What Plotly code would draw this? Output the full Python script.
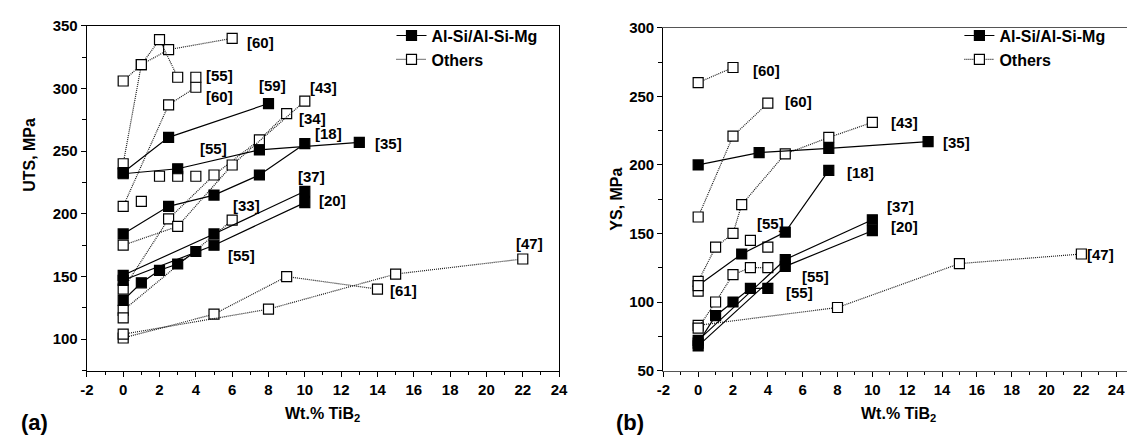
import plotly.graph_objects as go

# ---------------- Panel (a): UTS ----------------
# Al-Si / Al-Si-Mg (filled squares, solid lines)
a_al_59_x = [0, 2.5, 8];            a_al_59_y = [233, 261, 288]
a_al_35_x = [0, 3, 7.5, 13];        a_al_35_y = [232, 236, 251, 257]
a_al_18_x = [0, 2.5, 5, 7.5, 10];   a_al_18_y = [184, 206, 215, 231, 256]
a_al_37_x = [0, 5, 10];             a_al_37_y = [151, 184, 218]
a_al_20_x = [0, 5, 10];             a_al_20_y = [147, 175, 209]
a_al_55_x = [0, 1, 2, 3, 4];        a_al_55_y = [131, 145, 155, 160, 170]

# Others (open squares, dotted lines)
a_ot_60a_x = [0, 1, 2.5, 6];        a_ot_60a_y = [306, 319, 331, 340]
a_ot_60b_x = [0, 1, 2, 3];          a_ot_60b_y = [240, 319, 339, 309]
a_ot_60c_x = [0, 2.5, 4];           a_ot_60c_y = [206, 287, 301]
a_ot_34_x = [0, 2.5, 5, 7.5, 9];    a_ot_34_y = [140, 196, 231, 259, 280]
a_ot_43_x = [0, 3, 6, 10];          a_ot_43_y = [175, 190, 239, 290]
a_ot_33_x = [0, 6];                 a_ot_33_y = [123, 195]
a_ot_61_x = [0, 5, 9, 14];          a_ot_61_y = [101, 120, 150, 140]
a_ot_47_x = [0, 8, 15, 22];         a_ot_47_y = [104, 124, 152, 164]
a_ot_pts_x = [4, 1, 2, 3, 4, 0];    a_ot_pts_y = [309, 210, 230, 230, 230, 117]

a_lab_text = ["[60]", "[55]", "[60]", "[59]", "[43]", "[34]", "[55]", "[18]", "[35]",
              "[37]", "[20]", "[33]", "[55]", "[47]", "[61]"]
a_lab_x = [6.73, 4.46, 4.46, 7.36, 10.16, 9.58, 4.1, 10.47, 13.78, 9.5, 10.65, 5.91, 5.64, 21.5, 14.6]
a_lab_y = [337, 310, 294, 302, 301, 276, 252, 264, 256, 230, 211, 207, 167, 176, 139]

# ---------------- Panel (b): YS ----------------
b_al_35_x = [0, 3.5, 7.5, 13.2];    b_al_35_y = [200, 209, 212, 217]
b_al_18_x = [0, 2.5, 5, 7.5];       b_al_18_y = [112, 135, 151, 196]
b_al_37_x = [0, 5, 10];             b_al_37_y = [72, 131, 160]
b_al_20_x = [0, 5, 10];             b_al_20_y = [68, 126, 152]
b_al_55_x = [0, 1, 2, 3, 4];        b_al_55_y = [70, 90, 100, 110, 110]

b_ot_60a_x = [0, 2];                b_ot_60a_y = [260, 271]
b_ot_60b_x = [0, 2, 4];             b_ot_60b_y = [162, 221, 245]
b_ot_43_x = [0, 1, 2, 2.5, 5, 7.5, 10]; b_ot_43_y = [115, 140, 150, 171, 208, 220, 231]
b_ot_47_x = [0, 8, 15, 22];         b_ot_47_y = [83, 96, 128, 135]
b_ot_c_x = [0, 1, 2, 3, 4];         b_ot_c_y = [81, 100, 120, 125, 125]
b_ot_pts_x = [0, 3, 4];             b_ot_pts_y = [108, 145, 140]

b_lab_text = ["[60]", "[60]", "[43]", "[35]", "[18]", "[37]", "[20]", "[55]", "[55]", "[55]", "[47]"]
b_lab_x = [3.06, 4.88, 10.98, 13.96, 8.43, 10.73, 10.98, 3.24, 5.85, 4.94, 22.2]
b_lab_y = [269, 246, 231, 216, 194.5, 170, 155, 157, 118.5, 107, 135]

# tick labels
x_ticks = [-2, 0, 2, 4, 6, 8, 10, 12, 14, 16, 18, 20, 22, 24]
a_y_ticks = [100, 150, 200, 250, 300, 350]
b_y_ticks = [50, 100, 150, 200, 250, 300]

FONT = "Arial, Liberation Sans, sans-serif"
DOT = "1px,1px"
MS = 10

fig = go.Figure()


def add_series(x, y, filled, xa, ya, first_open=False):
    if filled:
        colors = ["black"] * len(x)
        if first_open:
            colors[0] = "white"
        fig.add_trace(go.Scatter(
            x=x, y=y, mode="lines+markers", xaxis=xa, yaxis=ya, showlegend=False,
            line=dict(color="black", width=1.2),
            marker=dict(symbol="square", size=MS, color=colors,
                        line=dict(color="black", width=1.2)),
            hoverinfo="skip"))
    else:
        fig.add_trace(go.Scatter(
            x=x, y=y, mode="lines+markers", xaxis=xa, yaxis=ya, showlegend=False,
            line=dict(color="#1a1a1a", width=1.2, dash=DOT),
            marker=dict(symbol="square", size=MS, color="white",
                        line=dict(color="black", width=1.2)),
            hoverinfo="skip"))


def add_points(x, y, xa, ya):
    fig.add_trace(go.Scatter(
        x=x, y=y, mode="markers", xaxis=xa, yaxis=ya, showlegend=False,
        marker=dict(symbol="square", size=MS, color="white",
                    line=dict(color="black", width=1.2)),
        hoverinfo="skip"))


# panel a: others first, then Al-Si on top
for sx, sy in [(a_ot_60a_x, a_ot_60a_y), (a_ot_60b_x, a_ot_60b_y), (a_ot_60c_x, a_ot_60c_y),
               (a_ot_34_x, a_ot_34_y), (a_ot_43_x, a_ot_43_y), (a_ot_33_x, a_ot_33_y),
               (a_ot_61_x, a_ot_61_y), (a_ot_47_x, a_ot_47_y)]:
    add_series(sx, sy, False, "x", "y")
add_points(a_ot_pts_x, a_ot_pts_y, "x", "y")
for sx, sy in [(a_al_59_x, a_al_59_y), (a_al_35_x, a_al_35_y), (a_al_18_x, a_al_18_y),
               (a_al_37_x, a_al_37_y), (a_al_20_x, a_al_20_y), (a_al_55_x, a_al_55_y)]:
    add_series(sx, sy, True, "x", "y")

# panel b
for sx, sy in [(b_ot_60a_x, b_ot_60a_y), (b_ot_60b_x, b_ot_60b_y), (b_ot_43_x, b_ot_43_y),
               (b_ot_47_x, b_ot_47_y), (b_ot_c_x, b_ot_c_y)]:
    add_series(sx, sy, False, "x2", "y2")
add_points(b_ot_pts_x, b_ot_pts_y, "x2", "y2")
for sx, sy in [(b_al_35_x, b_al_35_y), (b_al_37_x, b_al_37_y),
               (b_al_20_x, b_al_20_y), (b_al_55_x, b_al_55_y)]:
    add_series(sx, sy, True, "x2", "y2")
add_series(b_al_18_x, b_al_18_y, True, "x2", "y2", first_open=True)

# legend entries
for leg, xa, ya in [("legend", "x", "y"), ("legend2", "x2", "y2")]:
    fig.add_trace(go.Scatter(
        x=[None], y=[None], xaxis=xa, yaxis=ya, mode="lines+markers", name="<b>Al-Si/Al-Si-Mg</b>",
        legend=leg, line=dict(color="black", width=1.2),
        marker=dict(symbol="square", size=MS, color="black", line=dict(color="black", width=1.2))))
    fig.add_trace(go.Scatter(
        x=[None], y=[None], xaxis=xa, yaxis=ya, mode="lines+markers", name="<b>Others</b>",
        legend=leg, line=dict(color="#1a1a1a", width=1.2, dash=DOT),
        marker=dict(symbol="square", size=MS, color="white", line=dict(color="black", width=1.2))))

lab_font = dict(family=FONT, size=15, color="black")
annotations = []
for t, x, y in zip(a_lab_text, a_lab_x, a_lab_y):
    annotations.append(dict(text="<b>" + t + "</b>", x=x, y=y, xref="x", yref="y",
                            xanchor="left", yanchor="middle", showarrow=False, font=lab_font))
for t, x, y in zip(b_lab_text, b_lab_x, b_lab_y):
    annotations.append(dict(text="<b>" + t + "</b>", x=x, y=y, xref="x2", yref="y2",
                            xanchor="left", yanchor="middle", showarrow=False, font=lab_font))

W, H = 1136, 443
def px(v):
    return v / W
def py(v):
    return 1 - v / H

title_font = dict(family=FONT, size=16, color="black")
annotations += [
    dict(text="<b>UTS, MPa</b>", x=px(22), y=py(152), xref="paper", yref="paper", textangle=-90,
         showarrow=False, font=title_font, xanchor="center", yanchor="middle"),
    dict(text="<b>YS, MPa</b>", x=px(618), y=py(198), xref="paper", yref="paper", textangle=-90,
         showarrow=False, font=title_font, xanchor="center", yanchor="middle"),
    dict(text="<b>Wt.% TiB<sub>2</sub></b>", x=px(320), y=py(422), xref="paper", yref="paper",
         showarrow=False, font=title_font, xanchor="center", yanchor="middle"),
    dict(text="<b>Wt.% TiB<sub>2</sub></b>", x=px(904), y=py(422), xref="paper", yref="paper",
         showarrow=False, font=title_font, xanchor="center", yanchor="middle"),
    dict(text="<b>(a)</b>", x=px(28), y=py(430), xref="paper", yref="paper",
         showarrow=False, font=dict(family=FONT, size=22, color="black"),
         xanchor="center", yanchor="middle"),
    dict(text="<b>(b)</b>", x=px(632), y=py(430), xref="paper", yref="paper",
         showarrow=False, font=dict(family=FONT, size=22, color="black"),
         xanchor="center", yanchor="middle"),
]

tick_font = dict(family=FONT, size=15, color="black")
common_x = dict(tickvals=x_ticks, ticktext=["<b>%d</b>" % v for v in x_ticks],
                ticks="outside", ticklen=5, tickwidth=1.2, tickcolor="black",
                showgrid=False, zeroline=False, showline=True, linewidth=1.3,
                tickfont=tick_font, mirror=True,
                minor=dict(dtick=1, ticks="outside", ticklen=3, tickcolor="black", tickwidth=1))
common_y = dict(ticks="outside", ticklen=5, tickwidth=1.2, tickcolor="black",
                showgrid=False, zeroline=False, showline=True, linewidth=1.3,
                tickfont=tick_font,
                minor=dict(dtick=25, ticks="outside", ticklen=4, tickcolor="black", tickwidth=1))

ybot, ytop_a, ytop_b = py(376), py(17.5), py(19.5)

fig.update_layout(
    width=W, height=H, margin=dict(l=0, r=0, t=0, b=0),
    paper_bgcolor="white", plot_bgcolor="white",
    xaxis=dict(domain=[px(81), px(560)], range=[-2, 24], anchor="y", linecolor="black", **common_x),
    yaxis=dict(domain=[ybot, ytop_a], range=[75, 350], anchor="x", linecolor="black", mirror=True,
               tickvals=a_y_ticks, ticktext=["<b>%d</b>" % v for v in a_y_ticks], **common_y),
    xaxis2=dict(domain=[px(665.7), 1.0], range=[-2, 24.62], anchor="y2", linecolor="#555555", **common_x),
    yaxis2=dict(domain=[ybot, ytop_b], range=[50, 300], anchor="x2", linecolor="black", mirror=False,
                tickvals=b_y_ticks, ticktext=["<b>%d</b>" % v for v in b_y_ticks], **common_y),
    legend=dict(x=px(390), y=py(10), xanchor="left", yanchor="top", bgcolor="rgba(0,0,0,0)",
                font=dict(family=FONT, size=16, color="black"),
                itemwidth=30, tracegroupgap=0),
    legend2=dict(x=px(966), y=py(10), xanchor="left", yanchor="top", bgcolor="rgba(0,0,0,0)",
                 font=dict(family=FONT, size=16, color="black"),
                 itemwidth=30, tracegroupgap=0),
    annotations=annotations,
)

fig.write_html("out.html")
